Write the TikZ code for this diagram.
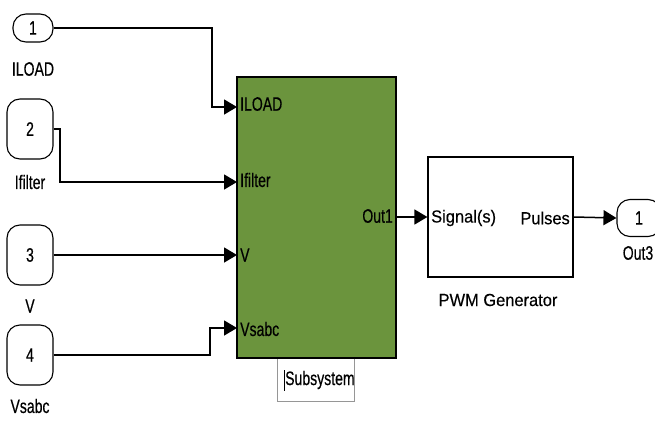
\documentclass[tikz,border=0pt]{standalone}
\usepackage{fontspec}
\setmainfont{Liberation Sans}[FakeStretch=0.72, FakeBold=0.4]
\newfontfamily\pwmfont{Liberation Sans}[FakeStretch=0.94, FakeBold=0.3]
\usetikzlibrary{arrows.meta}
\definecolor{subgreen}{RGB}{107,148,61}
\definecolor{capgray}{RGB}{150,150,150}

\begin{document}
\begin{tikzpicture}[
    x=1pt, y=-1pt,
    every node/.style={font=\fontsize{19.5}{19.5}\selectfont, inner sep=0pt},
    port/.style={draw, line width=1.1pt, rounded corners=13pt, minimum width=46pt, minimum height=60pt},
    block/.style={draw, line width=1.2pt},
    wire/.style={line width=1.5pt, -{Triangle[length=13pt,width=15pt]}},
    pwmtext/.style={font=\pwmfont\fontsize{17.5}{17.5}\selectfont}
]
\clip (0,0) rectangle (655,420);

% inports
\node [port, minimum width=40pt, minimum height=28pt] (in1) at (33,28) {1};
\node [port] (in2) at (30,129) {2};
\node [port] (in3) at (30,255) {3};
\node [port] (in4) at (30,355) {4};
\node (lILOAD) at (33,69) {ILOAD};
\node (lIfilter) at (30,182) {Ifilter};
\node (lV) at (30,306) {V};
\node (lVsabc) at (30,406) {Vsabc};

% subsystem
\node [draw=capgray, fill=white, line width=1pt, minimum width=77pt, minimum height=43pt] (cap) at (315.5,379.5) {};
\node [anchor=west] (tcap) at (285,380) {Subsystem};
\draw [line width=1pt] (tcap.west) ++(-1,-10) -- ++(0,21);
\node [block, fill=subgreen, minimum width=159pt, minimum height=281pt] (subsys) at (316.5,217.5) {};
\coordinate (s1) at (237,107);
\coordinate (s2) at (237,182);
\coordinate (s3) at (237,255);
\coordinate (s4) at (237,328);
\node [anchor=west] (tILOAD) at (240,104) {ILOAD};
\node [anchor=west] (tIfilter) at (240,180) {Ifilter};
\node [anchor=west] (tV) at (240,255) {V};
\node [anchor=west] (tVsabc) at (240,329) {Vsabc};
\node [anchor=east] (tOut1) at (393,216) {Out1};

% pwm generator
\node [block, minimum width=145pt, minimum height=120pt] (pwm) at (500.5,217) {};
\node [pwmtext, anchor=west] (tsig) at (431,218) {Signal(s)};
\node [pwmtext, anchor=east] (tpul) at (570,218) {Pulses};
\node [pwmtext] (lpwm) at (498,300) {PWM Generator};

% outport
\node [port, minimum width=44pt, minimum height=37pt] (out3) at (639,218) {1};
\node (lOut3) at (638,253) {Out3};

% wires
\draw [wire] (in1.east) -| ([xshift=-25pt]s1) -- (s1);
\draw [wire] (in2.east) -| ([xshift=-177pt]s2) -- (s2);
\draw [wire] (in3.east) -- (s3);
\draw [wire] (in4.east) -| ([xshift=-27pt]s4) -- (s4);
\draw [wire] (subsys.east |- pwm.west) -- (pwm.west);
\draw [wire] (pwm.east) -- (out3.west);

\end{tikzpicture}
\end{document}
